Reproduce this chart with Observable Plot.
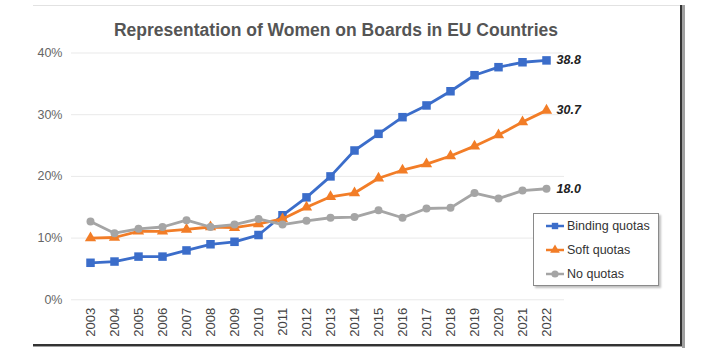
<!DOCTYPE html>
<html>
<head>
<meta charset="utf-8">
<script src="https://cdn.jsdelivr.net/npm/d3@7"></script>
<script src="https://cdn.jsdelivr.net/npm/@observablehq/plot@0.6"></script>
<style>
  html, body { margin: 0; padding: 0; background: #fff; }
  body { width: 720px; height: 354px; overflow: hidden; font-family: "Liberation Sans", Arial, Helvetica, sans-serif; }
  #wrap { position: relative; width: 720px; height: 354px; }
  #chart { position: absolute; left: 0; top: 0; }
  #title { position: absolute; left: 0; width: 672px; top: 20px; text-align: center; font-size: 17.5px; font-weight: bold; color: #555; white-space: nowrap; }
  .frame { position: absolute; }
  #legend { position: absolute; left: 533px; top: 213px; width: 124px; height: 71px; border: 1px solid #8a8a8a; background: #fff; box-shadow: 2px 2px 2px rgba(0,0,0,0.25); }
  .item { position: absolute; left: 11px; height: 16px; display: flex; align-items: center; font-size: 12.5px; color: #333; white-space: nowrap; }
  .item svg { margin-right: 2px; }
</style>
</head>
<body>
<div id="wrap">
  <div id="chart"></div>
  <div id="title">Representation of Women on Boards in EU Countries</div>
  <div class="frame" style="left:33px;top:5px;width:648px;height:1px;background:#e2e2e2"></div>
  <div class="frame" style="left:682px;top:5px;width:3px;height:343px;background:#a0a0a0"></div>
  <div class="frame" style="left:680px;top:5px;width:2px;height:341px;background:#333"></div>
  <div class="frame" style="left:33px;top:346px;width:650px;height:1px;background:#a0a0a0"></div>
  <div class="frame" style="left:33px;top:344px;width:649px;height:2px;background:#333"></div>
  <div id="legend"></div>
</div>
<script>
const years = ["2003","2004","2005","2006","2007","2008","2009","2010","2011","2012","2013","2014","2015","2016","2017","2018","2019","2020","2021","2022"];
const binding = [6.0, 6.2, 7.0, 7.0, 8.0, 9.0, 9.4, 10.5, 13.7, 16.6, 20.0, 24.2, 26.9, 29.6, 31.5, 33.8, 36.4, 37.7, 38.5, 38.8];
const soft    = [10.0, 10.1, 11.1, 11.1, 11.4, 11.8, 11.7, 12.3, 13.1, 15.0, 16.7, 17.3, 19.7, 21.0, 22.0, 23.3, 24.9, 26.7, 28.8, 30.7];
const none    = [12.7, 10.8, 11.5, 11.8, 12.9, 11.8, 12.2, 13.1, 12.2, 12.8, 13.3, 13.4, 14.5, 13.3, 14.8, 14.9, 17.3, 16.4, 17.7, 18.0];
const seriesNames = ["Binding quotas", "Soft quotas", "No quotas"];
const seriesColors = ["#3b6dca", "#f27d27", "#a5a5a5"];
const seriesSymbols = ["square", "triangle", "circle"];
const seriesSizes = [4.8, 4.2, 4];
const yTicks = [0, 10, 20, 30, 40];
const endLabels = ["38.8", "30.7", "18.0"];

const valuesBySeries = [binding, soft, none];
const rows = [];
seriesNames.forEach((s, i) => years.forEach((y, j) => rows.push({series: s, year: y, value: valuesBySeries[i][j]})));
const last = seriesNames.map((s, i) => ({series: s, year: years[years.length - 1], value: valuesBySeries[i][years.length - 1], label: endLabels[i]}));

const marks = [
  Plot.ruleY(yTicks, {stroke: "#e9e9e9", strokeWidth: 1}),
  Plot.axisY({ticks: yTicks, tickFormat: d => d + "%", tickSize: 0, tickPadding: 9, fontSize: 12.5, color: "#666", label: null}),
  Plot.axisX({tickRotate: -90, tickSize: 0, tickPadding: 8, fontSize: 13, color: "#444", label: null})
];
seriesNames.forEach((s, i) => {
  const d = rows.filter(r => r.series === s);
  marks.push(Plot.line(d, {x: "year", y: "value", stroke: seriesColors[i], strokeWidth: 2.8}));
  marks.push(Plot.dot(d, {x: "year", y: "value", fill: seriesColors[i], symbol: seriesSymbols[i], r: seriesSizes[i], stroke: "none"}));
});
marks.push(Plot.text(last, {x: "year", y: "value", text: "label", dx: 10, textAnchor: "start", fontWeight: "bold", fontStyle: "italic", fontSize: 12.5, fill: "#222"}));

const chart = Plot.plot({
  width: 720,
  height: 354,
  marginLeft: 71,
  marginRight: 156,
  marginTop: 52.5,
  marginBottom: 54.7,
  style: {fontFamily: "'Liberation Sans', Arial, Helvetica, sans-serif", background: "transparent", overflow: "visible"},
  x: {type: "point", domain: years, padding: 0.5},
  y: {domain: [0, 40]},
  marks
});
document.getElementById("chart").appendChild(chart);

// legend
const legend = document.getElementById("legend");
seriesNames.forEach((s, i) => {
  const div = document.createElement("div");
  div.className = "item";
  div.style.top = (4 + i * 24) + "px";
  const sw = d3.create("svg").attr("width", 20).attr("height", 12);
  sw.append("line").attr("x1", 1).attr("x2", 19).attr("y1", 6).attr("y2", 6).attr("stroke", seriesColors[i]).attr("stroke-width", 2.5);
  const sym = {square: d3.symbolSquare, triangle: d3.symbolTriangle, circle: d3.symbolCircle}[seriesSymbols[i]];
  sw.append("path").attr("d", d3.symbol(sym, Math.PI * 3.6 * 3.6)()).attr("transform", "translate(10,6)").attr("fill", seriesColors[i]);
  div.appendChild(sw.node());
  const t = document.createElement("span");
  t.textContent = s;
  div.appendChild(t);
  legend.appendChild(div);
});
</script>
</body>
</html>
